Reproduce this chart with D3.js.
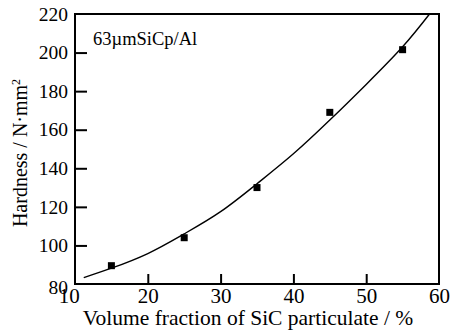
<!DOCTYPE html>
<html>
<head>
  <meta charset="utf-8">
  <style>
    body { margin: 0; background: #fff; }
    svg, svg text { font-family: "Liberation Serif", "DejaVu Serif", serif; }
    svg { display: block; }
    .frame { fill: none; stroke: #000; stroke-width: 2px; }
    .tick line { stroke: #000; stroke-width: 2px; }
    .tick text { fill: #000; }
    .xaxis .tick text { font-size: 21px; }
    .yaxis .tick text { font-size: 19.5px; }
    .fit { fill: none; stroke: #000; stroke-width: 1.4px; }
  </style>
</head>
<body>
  <svg width="457" height="331"></svg>
  <script src="https://cdn.jsdelivr.net/npm/d3@7"></script>
  <script>
    // measured hardness points
    var volFraction = [15, 25, 35, 45, 55];
    var hardness = [89.5, 104, 130, 169, 201.5];

    // fitted curve
    var curveX = [11.2, 15, 20, 25, 30, 35, 40, 45, 50, 55, 58.7];
    var curveY = [83.3, 88.2, 95.8, 106, 117.5, 132, 147.5, 165, 183.5, 203, 220];

    var xTicks = [10, 20, 30, 40, 50, 60];
    var yTicks = [80, 100, 120, 140, 160, 180, 200, 220];

    var svg = d3.select('svg');
    var plotL = 75, plotR = 439, plotT = 14, plotB = 284;

    var x = d3.scaleLinear().domain([10, 60]).range([plotL, plotR]);
    var y = d3.scaleLinear().domain([80, 220]).range([plotB, plotT]);

    // ticks point inward
    var xAxis = svg.append('g')
      .attr('class', 'xaxis')
      .attr('transform', 'translate(0,' + plotB + ')')
      .call(d3.axisBottom(x).tickValues(xTicks).tickSizeInner(-10).tickSizeOuter(0).tickPadding(4));
    xAxis.select('.domain').remove();
    xAxis.selectAll('.tick text').filter(function(d) { return d === 10; }).attr('dx', '-0.3em');

    var yAxis = svg.append('g')
      .attr('class', 'yaxis')
      .attr('transform', 'translate(' + plotL + ',0)')
      .call(d3.axisLeft(y).tickValues(yTicks).tickSizeInner(-12).tickSizeOuter(0).tickPadding(7));
    yAxis.select('.domain').remove();
    yAxis.selectAll('.tick text').filter(function(d) { return d === 80; }).attr('dy', '0.5em');

    // no tick marks at the frame corners
    svg.selectAll('.tick line').filter(function(d) { return d === 10 || d === 60 || d === 80 || d === 220; }).remove();

    svg.append('rect').attr('class', 'frame')
      .attr('x', plotL).attr('y', plotT)
      .attr('width', plotR - plotL).attr('height', plotB - plotT);

    var line = d3.line()
      .x(function(d) { return x(d[0]); })
      .y(function(d) { return y(d[1]); })
      .curve(d3.curveNatural);

    svg.append('path').attr('class', 'fit')
      .attr('d', line(d3.zip(curveX, curveY)));

    svg.selectAll('rect.pt')
      .data(d3.zip(volFraction, hardness))
      .enter().append('rect')
      .attr('class', 'pt')
      .attr('x', function(d) { return x(d[0]) - 3.5; })
      .attr('y', function(d) { return y(d[1]) - 3.5; })
      .attr('width', 7).attr('height', 7)
      .attr('fill', '#000');

    svg.append('text')
      .attr('x', 93).attr('y', 45)
      .attr('font-size', 18.5)
      .text('63\u00b5mSiCp/Al');

    svg.append('text')
      .attr('x', 248).attr('y', 325)
      .attr('text-anchor', 'middle')
      .attr('font-size', 21.5)
      .text('Volume fraction of SiC particulate / %');

    var yl = svg.append('text')
      .attr('transform', 'translate(27,153) rotate(-90)')
      .attr('text-anchor', 'middle')
      .attr('font-size', 20);
    yl.append('tspan').text('Hardness / N\u00b7mm');
    yl.append('tspan').attr('font-size', 12).attr('dy', -7).text('2');
  </script>
</body>
</html>
